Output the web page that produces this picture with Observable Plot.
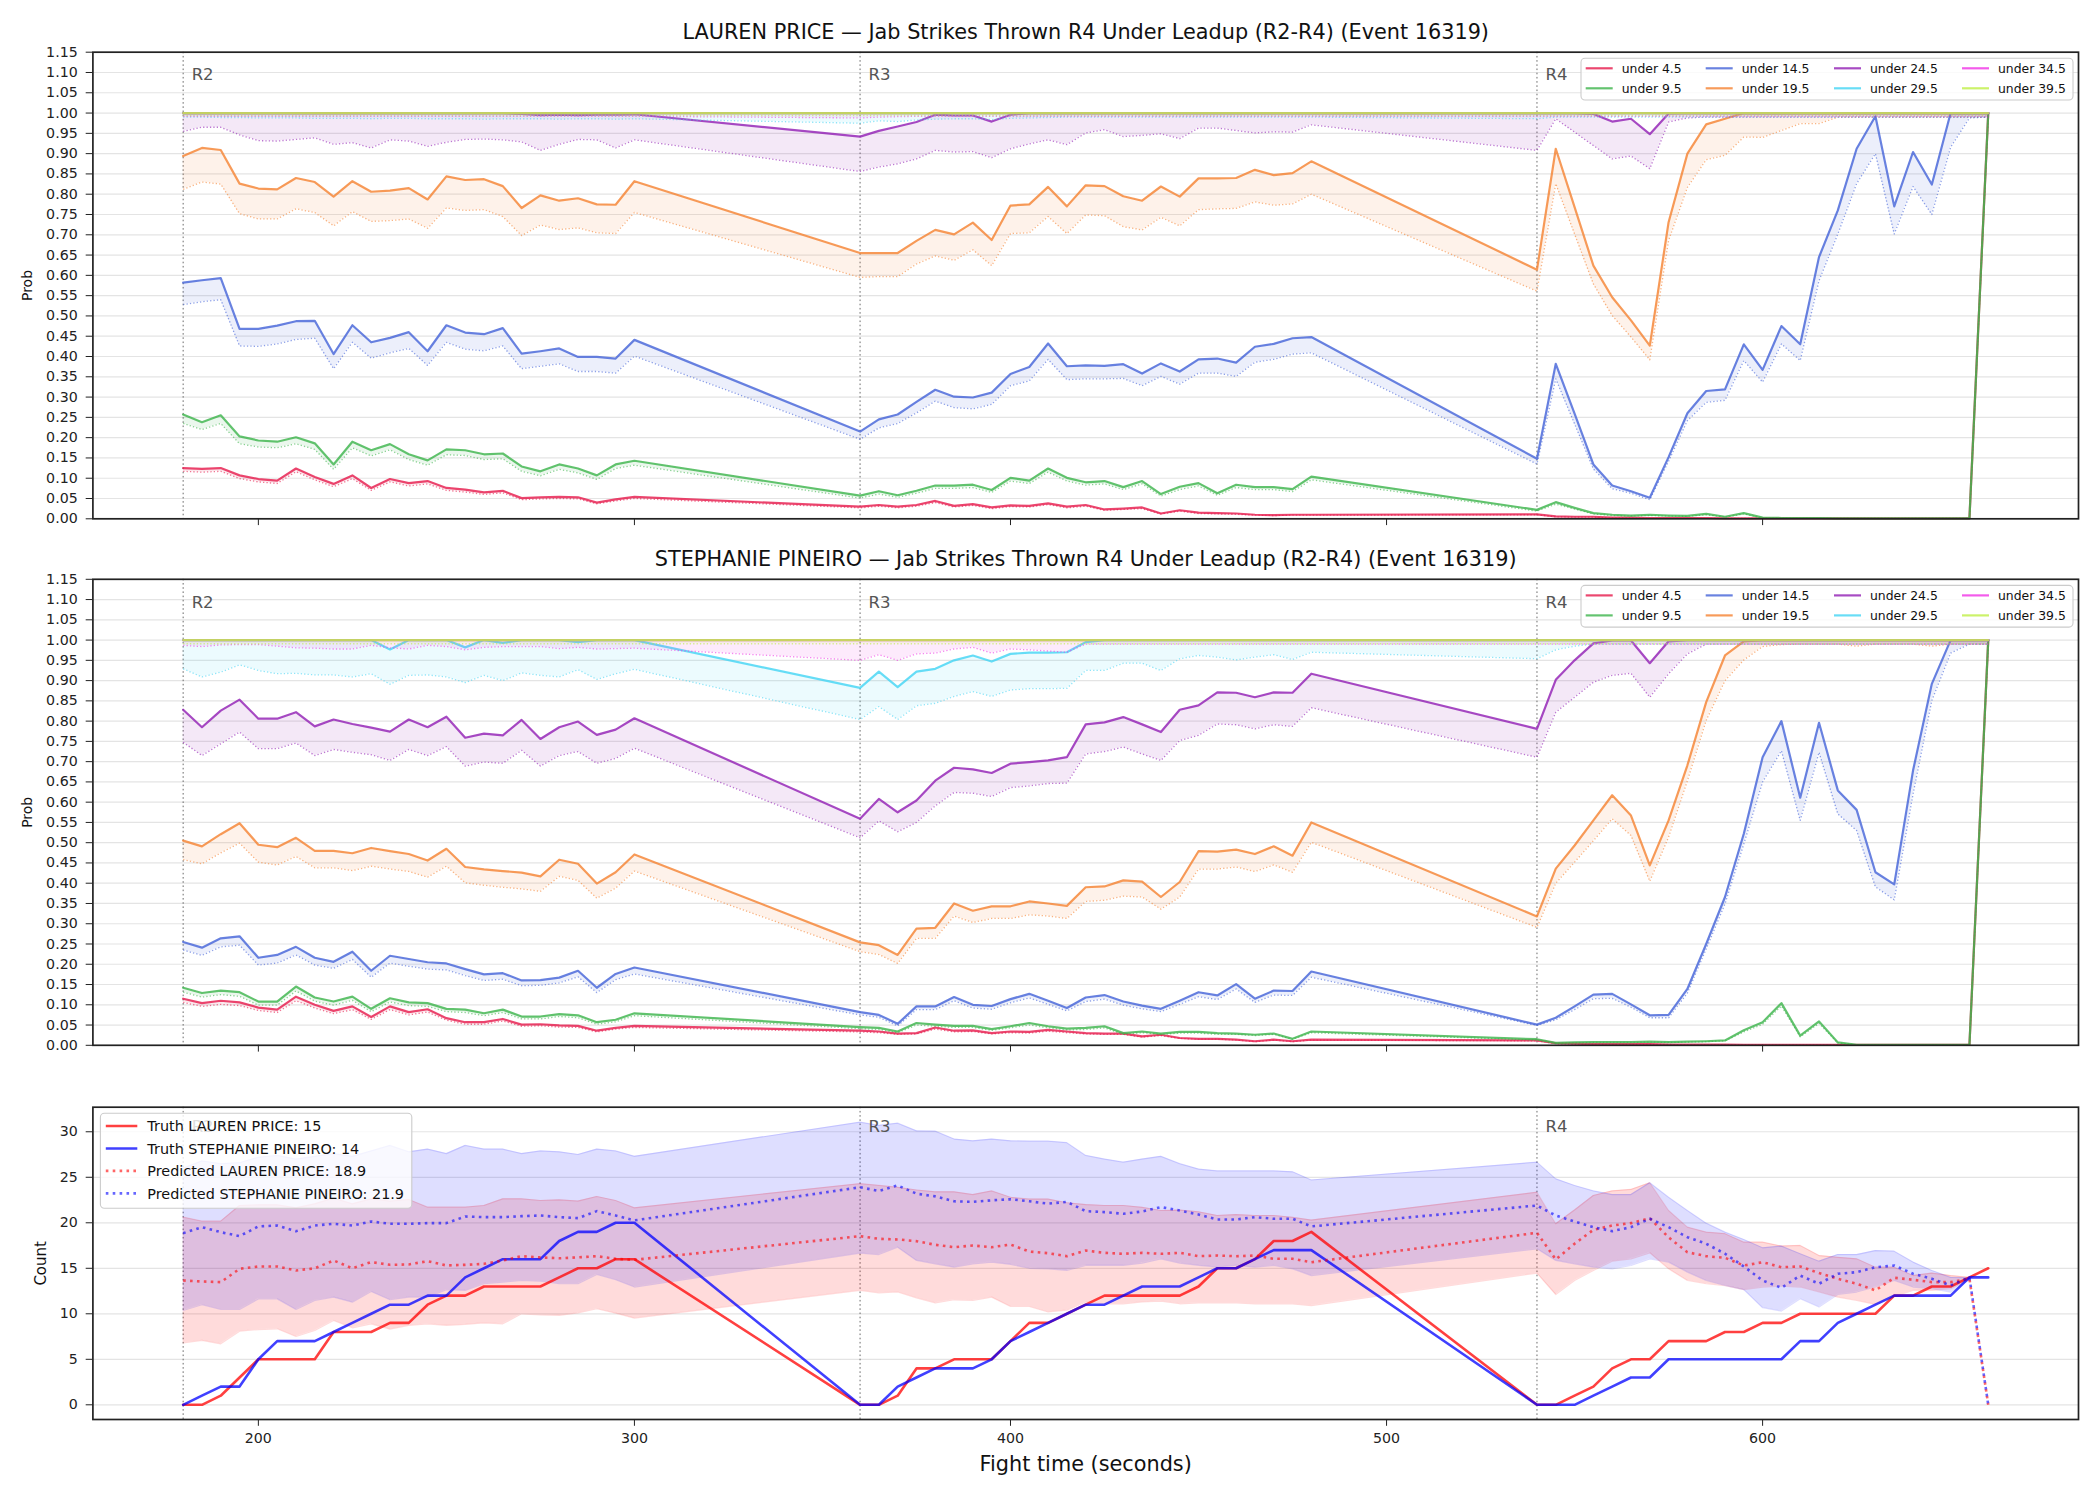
<!DOCTYPE html>
<html>
<head>
<meta charset="utf-8">
<script src="https://cdn.jsdelivr.net/npm/d3@7"></script>
<script src="https://cdn.jsdelivr.net/npm/@observablehq/plot@0.6"></script>
<style>
  html, body { margin: 0; padding: 0; background: #fff; }
  #chart { width: 2100px; height: 1500px; position: relative; }
  #chart svg { display: block; }
</style>
</head>
<body>
<div id="chart"></div>
<script>
// Sample times (seconds) for the leadup windows of rounds 2, 3 and 4
const T = [
  180,185,190,195,200,205,210,215,220,225,230,235,240,245,250,255,260,265,270,275,280,285,290,295,300,
  360,365,370,375,380,385,390,395,400,405,410,415,420,425,430,435,440,445,450,455,460,465,470,475,480,
  540,545,550,555,560,565,570,575,580,585,590,595,600,605,610,615,620,625,630,635,640,645,650,655,660
];
const ROUND_START = [180, 360, 540];
const ROUND_NAMES = ["R2", "R3", "R4"];
const THRESHOLDS = ["under 4.5","under 9.5","under 14.5","under 19.5","under 24.5","under 29.5","under 34.5","under 39.5"];
const COLORS = ["#e6194b","#3cb44b","#4363d8","#f58231","#911eb4","#42d4f4","#f032e6","#bfef45"];
const PROB_TICKS = [0,0.05,0.1,0.15,0.2,0.25,0.3,0.35,0.4,0.45,0.5,0.55,0.6,0.65,0.7,0.75,0.8,0.85,0.9,0.95,1,1.05,1.1,1.15];
const COUNT_TICKS = [0,5,10,15,20,25,30];
const X_TICKS = [200,300,400,500,600];

// ---- LAUREN PRICE: probability of finishing under each line (solid) and reference (dotted)
const price_u4 = [
  .125,.123,.125,.107,.098,.094,.124,.103,.086,.107,.076,.098,.088,.093,.076,.072,.065,.069,.051,.053,.054,.053,.040,.048,.054,
  .030,.034,.030,.034,.044,.032,.036,.028,.033,.032,.038,.030,.034,.023,.025,.028,.013,.021,.015,.014,.013,.010,.009,.010,.010,
  .011,.006,.005,.005,.003,.003,.002,.002,.002,.002,.001,.001,.001,.001,.001,.001,.001,.001,.001,.001,.001,.001,.001,.001,1];
const price_u4_lo = [
  .117,.115,.117,.099,.091,.087,.116,.096,.079,.099,.070,.091,.081,.086,.070,.066,.060,.064,.047,.049,.050,.049,.037,.044,.050,
  .027,.031,.027,.031,.040,.029,.033,.025,.030,.029,.035,.027,.031,.021,.023,.025,.012,.019,.013,.012,.011,.009,.008,.009,.009,
  .010,.005,.004,.004,.002,.002,.001,.001,.001,.001,.001,.001,.001,.001,.001,.001,.001,.001,.001,.001,.001,.001,.001,.001,.99];
const price_u9 = [
  .257,.238,.255,.203,.193,.190,.201,.186,.134,.190,.169,.184,.159,.144,.171,.169,.159,.161,.129,.117,.134,.124,.107,.134,.143,
  .057,.068,.058,.069,.082,.082,.084,.071,.101,.094,.124,.101,.090,.093,.078,.093,.061,.079,.088,.063,.084,.078,.078,.073,.104,
  .022,.041,.027,.014,.010,.008,.010,.008,.007,.012,.005,.014,.003,.002,.002,.002,.001,.001,.001,.001,.001,.001,.001,.001,1];
const price_u9_lo = [
  .235,.220,.235,.185,.177,.175,.185,.171,.122,.175,.155,.170,.146,.132,.158,.156,.146,.148,.117,.106,.122,.113,.097,.124,.132,
  .051,.061,.053,.063,.075,.075,.077,.065,.093,.087,.115,.093,.083,.086,.072,.086,.056,.072,.081,.058,.077,.072,.072,.067,.096,
  .019,.036,.024,.012,.008,.007,.008,.007,.006,.010,.004,.012,.002,.002,.001,.001,.001,.001,.001,.001,.001,.001,.001,.001,.99];
const price_u14 = [
  .582,.588,.593,.468,.468,.476,.487,.488,.406,.477,.435,.446,.460,.413,.477,.459,.455,.470,.407,.413,.420,.399,.399,.395,.441,
  .215,.245,.257,.288,.318,.301,.299,.311,.357,.374,.432,.376,.378,.377,.381,.358,.383,.363,.393,.395,.385,.424,.431,.445,.448,
  .148,.382,.259,.134,.082,.068,.052,.152,.260,.315,.319,.430,.367,.475,.430,.645,.760,.912,.992,.770,.904,.824,1,1,1];
const price_u14_lo = [
  .528,.535,.540,.426,.425,.431,.442,.445,.370,.435,.396,.409,.420,.378,.435,.418,.414,.426,.370,.376,.382,.363,.363,.359,.401,
  .196,.224,.235,.261,.290,.274,.271,.282,.328,.340,.393,.343,.345,.345,.346,.328,.351,.332,.359,.359,.351,.386,.393,.406,.409,
  .135,.345,.234,.123,.074,.063,.047,.142,.242,.287,.292,.390,.337,.431,.390,.587,.702,.826,.900,.702,.819,.750,.916,.988,.99];
const price_u19 = [
  .894,.914,.909,.826,.814,.812,.840,.830,.794,.832,.806,.809,.815,.787,.844,.835,.837,.820,.766,.797,.784,.790,.775,.774,.832,
  .655,.655,.655,.685,.712,.701,.730,.687,.772,.775,.818,.770,.822,.820,.795,.784,.819,.794,.839,.839,.840,.860,.847,.852,.881,
  .614,.912,.768,.624,.546,.489,.427,.731,.900,.972,.986,1,1,1,1,1,1,1,1,1,1,1,1,1,1];
const price_u19_lo = [
  .812,.830,.825,.752,.739,.739,.764,.755,.722,.757,.733,.735,.739,.716,.766,.760,.762,.745,.698,.724,.713,.717,.705,.703,.755,
  .595,.597,.597,.628,.648,.637,.663,.624,.703,.705,.745,.703,.749,.747,.720,.712,.743,.722,.762,.764,.765,.781,.773,.776,.800,
  .561,.826,.702,.579,.501,.448,.392,.686,.817,.885,.896,.941,.940,.957,.974,.974,.990,.99,.99,.99,.99,.99,.99,.99,.99];
const price_u24 = [
  1,1,1,1,1,1,1,1,1,1,1,1,1,1,1,1,1,1,.998,.995,.996,.995,.996,.996,.997,
  .942,.956,.967,.978,.996,.994,.994,.979,.996,1,1,1,1,1,1,1,1,1,1,1,1,1,1,1,1,
  1,1,1,.998,.979,.986,.948,.999,1,1,1,1,1,1,1,1,1,1,1,1,1,1,1,1,1];
const price_u24_lo = [
  .955,.965,.965,.946,.932,.931,.935,.939,.923,.927,.914,.934,.931,.918,.928,.935,.936,.934,.929,.908,.923,.935,.934,.914,.934,
  .856,.867,.875,.887,.908,.904,.905,.890,.912,.924,.934,.922,.951,.959,.942,.945,.949,.937,.963,.963,.957,.951,.954,.953,.971,
  .908,.986,.953,.920,.887,.894,.863,.978,.988,.99,.99,.99,.99,.99,.99,.99,.99,.99,.99,.99,.99,.99,.99,.99,.99];
const price_u29 = [
  1,1,1,1,1,1,1,1,1,1,1,1,1,1,1,1,1,1,1,1,1,1,1,1,1,
  1,1,1,1,1,1,1,1,1,1,1,1,1,1,1,1,1,1,1,1,1,1,1,1,1,
  1,1,1,1,1,1,1,1,1,1,1,1,1,1,1,1,1,1,1,1,1,1,1,1,1];
const price_u29_lo = [
  .990,.990,.989,.989,.988,.988,.988,.987,.987,.987,.986,.987,.987,.986,.986,.986,.985,.986,.986,.986,.985,.986,.986,.985,.986,
  .975,.981,.979,.983,.985,.986,.986,.984,.987,.988,.989,.99,.99,.99,.99,.99,.99,.99,.99,.99,.99,.99,.99,.99,.99,
  .986,.99,.99,.99,.99,.99,.99,.99,.99,.99,.99,.99,.99,.99,.99,.99,.99,.99,.99,.99,.99,.99,.99,.99,.99];
const price_u34 = [
  1,1,1,1,1,1,1,1,1,1,1,1,1,1,1,1,1,1,1,1,1,1,1,1,1,
  1,1,1,1,1,1,1,1,1,1,1,1,1,1,1,1,1,1,1,1,1,1,1,1,1,
  1,1,1,1,1,1,1,1,1,1,1,1,1,1,1,1,1,1,1,1,1,1,1,1,1];
const price_u34_lo = [
  .992,.992,.992,.992,.992,.992,.992,.992,.992,.992,.992,.992,.992,.992,.992,.992,.992,.992,.992,.992,.992,.992,.992,.992,.992,
  .988,.990,.991,.992,.992,.992,.992,.992,.992,.992,.992,.992,.992,.992,.992,.992,.992,.992,.992,.992,.992,.992,.992,.992,.992,
  .992,.992,.992,.992,.992,.992,.992,.992,.992,.992,.992,.992,.992,.992,.992,.992,.992,.992,.992,.992,.992,.992,.992,.992,.992];
const price_u39 = [
  1,1,1,1,1,1,1,1,1,1,1,1,1,1,1,1,1,1,1,1,1,1,1,1,1,
  1,1,1,1,1,1,1,1,1,1,1,1,1,1,1,1,1,1,1,1,1,1,1,1,1,
  1,1,1,1,1,1,1,1,1,1,1,1,1,1,1,1,1,1,1,1,1,1,1,1,1];
const price_u39_lo = [
  .994,.994,.994,.994,.994,.994,.994,.994,.994,.994,.994,.994,.994,.994,.994,.994,.994,.994,.994,.994,.994,.994,.994,.994,.994,
  .994,.994,.994,.994,.994,.994,.994,.994,.994,.994,.994,.994,.994,.994,.994,.994,.994,.994,.994,.994,.994,.994,.994,.994,.994,
  .994,.994,.994,.994,.994,.994,.994,.994,.994,.994,.994,.994,.994,.994,.994,.994,.994,.994,.994,.994,.994,.994,.994,.994,.994];

// ---- STEPHANIE PINEIRO
const pin_u4 = [
  .115,.104,.110,.106,.093,.088,.120,.100,.085,.096,.070,.096,.082,.089,.067,.057,.057,.065,.051,.052,.049,.048,.036,.043,.048,
  .036,.034,.029,.030,.044,.036,.037,.030,.034,.033,.038,.034,.030,.029,.029,.022,.026,.018,.016,.016,.014,.010,.014,.010,.014,
  .012,.005,.004,.003,.003,.003,.003,.002,.002,.002,.002,.001,.001,.001,.001,.001,.001,.001,.001,.001,.001,.001,.001,.001,1];
const pin_u4_lo = [
  .106,.096,.101,.098,.086,.081,.110,.092,.078,.088,.064,.088,.075,.082,.062,.052,.052,.060,.047,.048,.045,.044,.033,.040,.044,
  .033,.031,.027,.028,.040,.033,.034,.028,.031,.030,.035,.031,.028,.027,.027,.020,.024,.017,.015,.015,.013,.009,.013,.009,.013,
  .011,.004,.003,.003,.002,.002,.002,.002,.001,.001,.001,.001,.001,.001,.001,.001,.001,.001,.001,.001,.001,.001,.001,.001,.99];
const pin_u9 = [
  .142,.129,.135,.131,.108,.108,.145,.118,.108,.120,.090,.116,.106,.104,.090,.088,.079,.088,.071,.071,.077,.074,.057,.063,.079,
  .045,.043,.034,.055,.051,.048,.048,.040,.047,.055,.047,.041,.043,.047,.030,.034,.029,.033,.033,.030,.029,.026,.029,.016,.034,
  .015,.006,.007,.008,.008,.008,.009,.008,.009,.010,.012,.037,.057,.104,.024,.059,.007,.001,.001,.001,.001,.001,.001,.001,1];
const pin_u9_lo = [
  .131,.119,.125,.121,.099,.099,.134,.109,.099,.111,.083,.107,.098,.096,.083,.081,.073,.081,.065,.065,.071,.068,.052,.058,.073,
  .041,.039,.031,.050,.047,.044,.044,.037,.043,.050,.043,.038,.039,.043,.027,.031,.027,.030,.030,.027,.027,.024,.027,.015,.031,
  .013,.005,.006,.007,.007,.007,.008,.007,.008,.009,.011,.033,.052,.097,.021,.054,.006,.001,.001,.001,.001,.001,.001,.001,.99];
const pin_u14 = [
  .255,.241,.264,.269,.216,.223,.243,.216,.206,.231,.184,.221,.213,.205,.202,.188,.175,.178,.160,.161,.167,.184,.142,.176,.192,
  .082,.075,.053,.096,.096,.119,.100,.097,.114,.127,.110,.092,.118,.124,.108,.098,.090,.110,.131,.123,.151,.115,.135,.134,.182,
  .051,.068,.096,.125,.127,.101,.074,.075,.139,.250,.366,.522,.711,.800,.611,.796,.629,.581,.427,.397,.678,.892,1,1,1];
const pin_u14_lo = [
  .235,.222,.243,.247,.198,.203,.223,.198,.190,.212,.168,.203,.195,.188,.186,.172,.160,.163,.147,.148,.154,.169,.130,.162,.176,
  .075,.069,.048,.088,.088,.110,.092,.089,.105,.117,.101,.085,.108,.114,.099,.090,.083,.101,.120,.113,.139,.106,.124,.123,.168,
  .049,.063,.088,.115,.116,.094,.068,.068,.129,.238,.349,.497,.650,.727,.555,.723,.571,.530,.391,.359,.620,.851,.968,.990,.99];
const pin_u19 = [
  .505,.491,.521,.548,.495,.489,.512,.480,.480,.474,.487,.479,.472,.456,.485,.440,.434,.430,.426,.417,.458,.448,.399,.427,.471,
  .254,.247,.223,.288,.290,.350,.332,.343,.343,.355,.350,.344,.390,.392,.407,.404,.366,.403,.479,.478,.483,.472,.491,.468,.550,
  .318,.436,.493,.555,.617,.567,.444,.555,.691,.847,.962,.997,1,1,1,1,1,1,1,1,1,1,1,1,1];
const pin_u19_lo = [
  .458,.448,.475,.499,.452,.445,.466,.438,.438,.431,.442,.435,.429,.415,.442,.401,.395,.390,.386,.380,.417,.407,.363,.388,.430,
  .231,.224,.202,.264,.264,.319,.303,.313,.313,.322,.319,.313,.355,.358,.368,.366,.336,.366,.435,.435,.440,.429,.445,.427,.501,
  .291,.400,.452,.505,.559,.518,.405,.514,.653,.802,.900,.951,.984,.989,.99,.99,.99,.985,.99,.99,.99,.985,.99,.99,.99];
const pin_u24 = [
  .828,.785,.826,.853,.806,.806,.822,.787,.804,.793,.784,.774,.804,.785,.811,.759,.769,.765,.803,.756,.785,.799,.766,.779,.807,
  .559,.608,.575,.604,.653,.685,.681,.672,.695,.699,.703,.711,.792,.797,.810,.792,.773,.828,.839,.871,.870,.859,.871,.870,.917,
  .781,.902,.950,.992,.999,.999,.943,.997,1,1,1,1,1,1,1,1,1,1,1,1,1,1,1,1,1];
const pin_u24_lo = [
  .748,.715,.744,.773,.732,.732,.746,.715,.730,.723,.717,.703,.730,.715,.737,.689,.699,.696,.728,.689,.715,.725,.696,.708,.733,
  .512,.554,.527,.550,.591,.624,.622,.614,.636,.640,.646,.647,.719,.725,.736,.719,.703,.752,.765,.793,.791,.781,.791,.787,.833,
  .711,.822,.859,.896,.913,.918,.859,.917,.966,.99,.99,.99,.99,.99,.99,.99,.99,.99,.99,.99,.99,.99,.99,.99,.99];
const pin_u29 = [
  1,1,1,1,1,1,1,1,1,1,1,.977,1,1,1,.982,1,.993,1,1,1,.995,1,1,1,
  .882,.922,.884,.922,.929,.950,.962,.947,.966,.969,.969,.970,.995,1,1,1,1,1,1,1,1,1,1,1,1,
  1,1,1,1,1,1,1,1,1,1,1,1,1,1,1,1,1,1,1,1,1,1,1,1,1];
const pin_u29_lo = [
  .929,.909,.921,.939,.925,.917,.918,.914,.914,.909,.917,.891,.913,.914,.909,.895,.913,.900,.919,.913,.909,.927,.903,.917,.928,
  .804,.836,.804,.838,.844,.861,.873,.861,.877,.880,.880,.881,.925,.925,.943,.943,.925,.954,.962,.958,.951,.958,.964,.952,.970,
  .954,.976,.985,.99,.99,.99,.99,.99,.99,.99,.99,.99,.99,.99,.99,.99,.99,.99,.99,.99,.99,.99,.99,.99,.99];
const pin_u34 = [
  1,1,1,1,1,1,1,1,1,1,1,1,1,1,1,1,1,1,1,1,1,1,1,1,1,
  1,1,1,1,1,1,1,1,1,1,1,1,1,1,1,1,1,1,1,1,1,1,1,1,1,
  1,1,1,1,1,1,1,1,1,1,1,1,1,1,1,1,1,1,1,1,1,1,1,1,1];
const pin_u34_lo = [
  .987,.984,.988,.989,.989,.985,.981,.980,.978,.978,.987,.981,.978,.987,.984,.976,.982,.984,.984,.984,.979,.982,.978,.979,.980,
  .950,.964,.950,.966,.968,.978,.982,.968,.978,.976,.973,.970,.990,.99,.99,.99,.99,.99,.99,.99,.99,.99,.99,.99,.99,
  .99,.99,.99,.99,.99,.99,.99,.99,.99,.99,.99,.99,.99,.99,.99,.99,.99,.99,.99,.99,.99,.99,.99,.99,.99];
const pin_u39 = [
  1,1,1,1,1,1,1,1,1,1,1,1,1,1,1,1,1,1,1,1,1,1,1,1,1,
  1,1,1,1,1,1,1,1,1,1,1,1,1,1,1,1,1,1,1,1,1,1,1,1,1,
  1,1,1,1,1,1,1,1,1,1,1,1,1,1,1,1,1,1,1,1,1,1,1,1,1];
const pin_u39_lo = [
  .991,.991,.991,.991,.991,.991,.991,.991,.991,.991,.991,.991,.991,.991,.991,.991,.991,.991,.991,.991,.991,.991,.991,.991,.991,
  .991,.991,.991,.991,.991,.991,.991,.991,.991,.991,.991,.991,.991,.991,.991,.991,.991,.991,.991,.991,.991,.991,.991,.991,.991,
  .991,.991,.991,.991,.991,.991,.991,.991,.991,.991,.991,.991,.991,.991,.991,.991,.991,.991,.991,.991,.991,.991,.991,.991,.991];

// ---- Cumulative jab counts in each round: truth, prediction and prediction band
const truth_price = [
  0,0,1,3,5,5,5,5,8,8,8,9,9,11,12,12,13,13,13,13,14,15,15,16,16,
  0,0,1,4,4,5,5,5,7,9,9,10,11,12,12,12,12,12,13,15,15,16,18,18,19,
  0,0,1,2,4,5,5,7,7,7,8,8,9,9,10,10,10,10,10,12,12,13,13,14,15];
const truth_pineiro = [
  0,1,2,2,5,7,7,7,8,9,10,11,11,12,12,14,15,16,16,16,18,19,19,20,20,
  0,0,2,3,4,4,4,5,7,8,9,10,11,11,12,13,13,13,14,15,15,16,17,17,17,
  0,0,0,1,2,3,3,5,5,5,5,5,5,5,7,7,9,10,11,12,12,12,12,14,14];
const pred_price = [
  13.66,13.55,13.48,14.94,15.2,15.2,14.76,15.0,15.86,15.0,15.68,15.38,15.42,15.78,15.31,15.38,15.49,15.86,16.33,16.2,16.1,16.2,16.33,16.04,15.93,
  18.53,18.24,18.17,17.98,17.58,17.32,17.5,17.32,17.61,16.84,16.66,16.33,16.95,16.7,16.59,16.7,16.59,16.7,16.33,16.4,16.33,16.4,16.04,16.04,15.67,
  18.9,15.97,17.7,19.23,19.7,19.96,20.5,18.4,16.77,16.33,16.15,15.3,15.67,15.12,15.2,14.47,13.85,13.3,12.57,13.96,13.74,13.48,13.48,13.85,0];
const pred_pineiro = [
  18.86,19.52,18.97,18.53,19.6,19.7,19.08,19.7,19.89,19.7,20.14,19.89,19.89,19.96,19.96,20.69,20.62,20.62,20.73,20.8,20.62,20.51,21.28,20.8,20.26,
  23.9,23.5,24.1,23.2,22.9,22.36,22.3,22.47,22.58,22.36,22.1,22.3,21.28,21.17,20.99,21.24,21.72,21.35,20.91,20.36,20.36,20.62,20.44,20.44,19.6,
  21.9,20.8,20.14,19.52,19.08,19.52,20.44,19.52,18.42,17.7,16.6,15.2,13.66,12.85,14.2,13.3,14.4,14.57,15.12,15.3,14.4,13.85,13.11,14.0,0];
const band_price_lo = [
  6.81,7.07,6.7,8.09,8.27,8.35,7.5,8.17,9.27,8.46,8.9,8.31,8.72,8.9,8.72,8.83,9.0,8.9,10.0,9.89,9.82,10.1,10.55,10.07,9.52,
  12.57,12.3,12.4,11.75,11.2,11.54,11.46,11.83,10.8,10.8,10.2,10.4,11.3,11.1,11.1,11.3,11.4,11.1,11.2,11.2,11.2,11.1,11.1,11.1,10.9,
  14.47,12.12,13.66,14.76,15.78,16.04,16.7,14.94,13.66,13.3,13.1,12.65,12.94,13.05,12.94,12.39,11.83,11.46,11.03,11.9,12.57,12.57,12.75,13.74,null];
const band_price_hi = [
  20.62,20.18,20.18,21.9,21.97,21.97,21.64,22.08,22.71,22.08,22.63,22.38,22.56,21.72,21.72,21.72,21.9,22.63,22.63,22.45,22.52,22.38,22.89,22.45,21.64,
  24.3,24.1,23.9,23.6,23.4,23.4,23.1,23.5,22.8,22.6,22.6,22.2,22.0,21.9,21.9,21.7,21.35,21.4,21.2,20.8,20.9,20.8,20.8,20.6,20.3,
  23.36,19.89,21.4,23.0,23.5,23.66,24.4,21.35,19.52,18.97,18.8,17.87,17.87,17.44,17.51,16.4,16.2,16.04,15.12,15.12,14.2,14.47,14.2,14.0,null];
const band_pineiro_lo = [
  10.36,10.99,10.47,10.47,11.64,11.64,10.47,11.46,11.83,11.28,12.45,11.54,11.83,11.83,12.64,12.57,13.3,13.48,13.66,13.59,13.3,13.3,14.32,13.74,12.94,
  16.66,16.51,17.32,15.86,15.49,15.12,15.49,15.68,15.42,15.0,14.94,14.76,15.31,15.31,15.31,15.57,16.04,15.57,15.31,15.12,15.31,15.12,15.31,14.94,14.2,
  17.14,15.86,15.49,15.12,14.94,15.31,16.04,15.68,14.58,13.66,13.11,12.65,10.67,10.3,11.65,10.74,12.12,12.39,12.94,13.66,12.94,12.75,12.39,13.74,null];
const band_pineiro_hi = [
  26.0,26.8,26.5,26.6,27.2,27.4,27.0,27.3,27.6,27.3,27.9,28.5,27.8,28.1,27.6,28.5,28.1,28.1,27.6,27.9,27.8,27.5,28.1,27.9,27.3,
  31.06,30.7,30.95,30.1,30.07,29.2,29.0,29.2,29.0,28.97,28.97,28.8,27.4,27.0,26.66,27.0,27.3,26.5,25.9,25.7,25.7,25.7,25.7,25.6,24.7,
  26.66,24.83,24.1,23.5,23.1,23.1,24.4,22.8,21.35,19.96,18.97,18.17,17.25,17.44,16.6,15.78,16.51,16.51,16.95,16.88,15.68,14.76,14.0,13.96,null];

const PRICE_SOLID = [price_u4, price_u9, price_u14, price_u19, price_u24, price_u29, price_u34, price_u39];
const PRICE_DOT = [price_u4_lo, price_u9_lo, price_u14_lo, price_u19_lo, price_u24_lo, price_u29_lo, price_u34_lo, price_u39_lo];
const PIN_SOLID = [pin_u4, pin_u9, pin_u14, pin_u19, pin_u24, pin_u29, pin_u34, pin_u39];
const PIN_DOT = [pin_u4_lo, pin_u9_lo, pin_u14_lo, pin_u19_lo, pin_u24_lo, pin_u29_lo, pin_u34_lo, pin_u39_lo];

[...PRICE_SOLID, ...PRICE_DOT, ...PIN_SOLID, ...PIN_DOT, truth_price, truth_pineiro, pred_price, pred_pineiro,
 band_price_lo, band_price_hi, band_pineiro_lo, band_pineiro_hi].forEach((a, i) => {
  if (a.length !== T.length) throw new Error("series " + i + " has " + a.length + " values");
});

const FONT = "DejaVu Sans, sans-serif";
const GRID = "#e4e4e4";
const X_DOMAIN = [156, 684];

// Legend for the threshold lines (4 columns x 2 rows, upper right)
function thresholdLegend(index, scales, values, dims) {
  const g = d3.create("svg:g").attr("text-anchor", "start");
  const right = dims.width - dims.marginRight - 5;
  const w = 492, h = 41.7, left = right - w, top = dims.marginTop + 6.6;
  g.append("rect").attr("x", left).attr("y", top).attr("width", w).attr("height", h)
    .attr("rx", 4).attr("fill", "#fff").attr("fill-opacity", 0.8)
    .attr("stroke", "#cccccc").attr("stroke-width", 1.1);
  const cols = [4.7, 124.7, 253, 381];
  THRESHOLDS.forEach((label, i) => {
    const cx = left + cols[Math.floor(i / 2)];
    const cy = top + 10 + (i % 2) * 20;
    g.append("line").attr("x1", cx).attr("x2", cx + 27).attr("y1", cy).attr("y2", cy)
      .attr("stroke", COLORS[i]).attr("stroke-opacity", 0.8).attr("stroke-width", 2.2);
    g.append("text").attr("x", cx + 36).attr("y", cy).attr("dy", "0.36em")
      .attr("text-anchor", "start").attr("font-size", 12.4).attr("fill", "#111").text(label);
  });
  return g.node();
}

function probPanel({title, solid, dotted, height, marginTop, marginBottom, labelDy}) {
  const marks = [
    Plot.ruleY(PROB_TICKS, {stroke: GRID, strokeWidth: 1.2}),
    Plot.ruleX(ROUND_START, {stroke: "#6a6a6a", strokeWidth: 1, strokeDasharray: "1.6,2.6"})
  ];
  THRESHOLDS.forEach((label, k) => {
    const data = T.map((t, i) => ({t, hi: solid[k][i], lo: dotted[k][i]}));
    const c = COLORS[k];
    marks.push(
      Plot.areaY(data, {x: "t", y1: "lo", y2: "hi", fill: c, fillOpacity: 0.1}),
      Plot.line(data, {x: "t", y: "hi", stroke: c, strokeOpacity: 0.8, strokeWidth: 2.2}),
      Plot.line(data, {x: "t", y: "lo", stroke: c, strokeOpacity: 0.6, strokeWidth: 1.3,
                       strokeDasharray: "1.3,2.1", strokeLinecap: "butt"})
    );
  });
  marks.push(
    Plot.text(ROUND_START, {x: d => d, text: (d, i) => ROUND_NAMES[i], frameAnchor: "top",
      dx: 8.5, dy: labelDy, textAnchor: "start", lineAnchor: "top", fill: "#555", fontSize: 16.5}),
    Plot.frame({stroke: "#222", strokeWidth: 1.7}),
    Plot.axisY({ticks: PROB_TICKS, tickFormat: d3.format(".2f"), tickSize: 6.7, tickPadding: 8.5,
      label: null, fontSize: 14.2}),
    Plot.axisX({ticks: X_TICKS, tickFormat: () => "", tickSize: 6.8, label: null}),
    Plot.text([title], {text: d => d, frameAnchor: "top", dy: -13, lineAnchor: "bottom",
      fontSize: 20.8, fill: "#111"}),
    Plot.text(["Prob"], {text: d => d, frameAnchor: "left", dx: -65, rotate: -90,
      textAnchor: "middle", lineAnchor: "middle", fontSize: 14, fill: "#111"}),
    thresholdLegend
  );
  return Plot.plot({
    width: 2100, height, marginTop, marginBottom, marginLeft: 92.4, marginRight: 22,
    x: {domain: X_DOMAIN}, y: {domain: [0, 1.15]},
    style: {fontFamily: FONT, fontSize: "14.2px", color: "#222", background: "#fff", overflow: "visible"},
    marks
  });
}

// Legend for the count panel (upper left)
const iR4 = T.indexOf(540);
const COUNT_LEGEND = [
  {label: `Truth LAUREN PRICE: ${truth_price[T.length - 1]}`, color: "#ff0000", dotted: false},
  {label: `Truth STEPHANIE PINEIRO: ${truth_pineiro[T.length - 1]}`, color: "#0000ff", dotted: false},
  {label: `Predicted LAUREN PRICE: ${pred_price[iR4].toFixed(1)}`, color: "#ff0000", dotted: true},
  {label: `Predicted STEPHANIE PINEIRO: ${pred_pineiro[iR4].toFixed(1)}`, color: "#0000ff", dotted: true}
];
function countLegend(index, scales, values, dims) {
  const g = d3.create("svg:g").attr("text-anchor", "start");
  const left = dims.marginLeft + 8, top = dims.marginTop + 6.6;
  g.append("rect").attr("x", left).attr("y", top).attr("width", 311.4).attr("height", 95)
    .attr("rx", 4).attr("fill", "#fff").attr("fill-opacity", 0.8)
    .attr("stroke", "#cccccc").attr("stroke-width", 1.1);
  COUNT_LEGEND.forEach((d, i) => {
    const cy = top + 12.7 + i * 22.45;
    const ln = g.append("line").attr("x1", left + 5.4).attr("x2", left + 36.9).attr("y1", cy).attr("y2", cy)
      .attr("stroke", d.color).attr("stroke-width", 2.6).attr("stroke-opacity", d.dotted ? 0.6 : 0.75);
    if (d.dotted) ln.attr("stroke-dasharray", "2.6,4.3");
    g.append("text").attr("x", left + 46.9).attr("y", cy).attr("dy", "0.36em")
      .attr("text-anchor", "start").attr("font-size", 14.4).attr("fill", "#111").text(d.label);
  });
  return g.node();
}

function countPanel() {
  const rowsP = T.map((t, i) => ({t, truth: truth_price[i], pred: pred_price[i], lo: band_price_lo[i], hi: band_price_hi[i]}));
  const rowsS = T.map((t, i) => ({t, truth: truth_pineiro[i], pred: pred_pineiro[i], lo: band_pineiro_lo[i], hi: band_pineiro_hi[i]}));
  const bandP = rowsP.filter(d => d.hi != null);
  const bandS = rowsS.filter(d => d.hi != null);
  const marks = [
    Plot.ruleY(COUNT_TICKS, {stroke: GRID, strokeWidth: 1.2}),
    Plot.ruleX(ROUND_START, {stroke: "#6a6a6a", strokeWidth: 1, strokeDasharray: "1.6,2.6"}),
    Plot.areaY(bandP, {x: "t", y1: "lo", y2: "hi", fill: "#ff0000", fillOpacity: 0.14}),
    Plot.line(bandP, {x: "t", y: "lo", stroke: "#ff0000", strokeOpacity: 0.14, strokeWidth: 1.2}),
    Plot.line(bandP, {x: "t", y: "hi", stroke: "#ff0000", strokeOpacity: 0.14, strokeWidth: 1.2}),
    Plot.areaY(bandS, {x: "t", y1: "lo", y2: "hi", fill: "#0000ff", fillOpacity: 0.13}),
    Plot.line(bandS, {x: "t", y: "lo", stroke: "#0000ff", strokeOpacity: 0.13, strokeWidth: 1.2}),
    Plot.line(bandS, {x: "t", y: "hi", stroke: "#0000ff", strokeOpacity: 0.13, strokeWidth: 1.2}),
    Plot.line(rowsP, {x: "t", y: "truth", stroke: "#ff0000", strokeOpacity: 0.75, strokeWidth: 2.6}),
    Plot.line(rowsS, {x: "t", y: "truth", stroke: "#0000ff", strokeOpacity: 0.75, strokeWidth: 2.6}),
    Plot.line(rowsP, {x: "t", y: "pred", stroke: "#ff0000", strokeOpacity: 0.6, strokeWidth: 2.6,
      strokeDasharray: "2.6,4.3", strokeLinecap: "butt"}),
    Plot.line(rowsS, {x: "t", y: "pred", stroke: "#0000ff", strokeOpacity: 0.6, strokeWidth: 2.6,
      strokeDasharray: "2.6,4.3", strokeLinecap: "butt"}),
    Plot.text(ROUND_START, {x: d => d, text: (d, i) => ROUND_NAMES[i], frameAnchor: "top",
      dx: 8.5, dy: 12.6, textAnchor: "start", lineAnchor: "top", fill: "#555", fontSize: 16.5}),
    Plot.frame({stroke: "#222", strokeWidth: 1.7}),
    Plot.axisY({ticks: COUNT_TICKS, tickSize: 6.7, tickPadding: 8.5, label: null, fontSize: 14.2}),
    Plot.axisX({ticks: X_TICKS, tickSize: 6.8, tickPadding: 7, label: null, fontSize: 14.2}),
    Plot.text(["Count"], {text: d => d, frameAnchor: "left", dx: -51.4, rotate: -90,
      textAnchor: "middle", lineAnchor: "middle", fontSize: 15, fill: "#111"}),
    Plot.text(["Fight time (seconds)"], {text: d => d, frameAnchor: "bottom", dy: 51,
      lineAnchor: "bottom", fontSize: 20.8, fill: "#111"}),
    countLegend
  ];
  return Plot.plot({
    width: 2100, height: 420, marginTop: 26.7, marginBottom: 81, marginLeft: 92.4, marginRight: 22,
    x: {domain: X_DOMAIN}, y: {domain: [-1.615, 32.7]},
    style: {fontFamily: FONT, fontSize: "14.2px", color: "#222", background: "#fff", overflow: "visible"},
    marks
  });
}

const chart = document.getElementById("chart");
chart.append(
  probPanel({title: "LAUREN PRICE \u2014 Jab Strikes Thrown R4 Under Leadup (R2-R4) (Event 16319)",
    solid: PRICE_SOLID, dotted: PRICE_DOT, height: 540, marginTop: 51.7, marginBottom: 21.7, labelDy: 15.6}),
  probPanel({title: "STEPHANIE PINEIRO \u2014 Jab Strikes Thrown R4 Under Leadup (R2-R4) (Event 16319)",
    solid: PIN_SOLID, dotted: PIN_DOT, height: 540, marginTop: 38.8, marginBottom: 35.2, labelDy: 17.4}),
  countPanel()
);
</script>
</body>
</html>
